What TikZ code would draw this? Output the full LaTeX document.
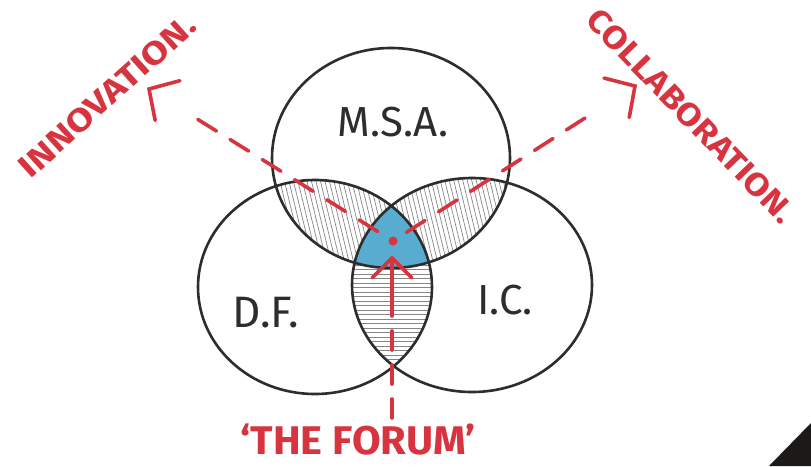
\documentclass[tikz,border=0pt]{standalone}
\usepackage{fontspec}
\setmainfont{Fira Sans}
\newfontfamily\hand{Fira Sans}
\usetikzlibrary{calc}
\definecolor{inkred}{RGB}{215,52,64}
\definecolor{inkblue}{RGB}{88,172,208}
\definecolor{ink}{RGB}{45,45,45}
\definecolor{hatchgray}{RGB}{135,135,135}
\definecolor{cornerink}{RGB}{28,26,22}
\begin{document}
\begin{tikzpicture}[x=1pt,y=-1pt,
  ring/.style={draw=ink, line width=2.6pt},
  hatchline/.style={draw=hatchgray, line width=0.7pt},
  redline/.style={draw=inkred, line width=3.6pt, line cap=round},
  reddash/.style={redline, dash pattern=on 22pt off 16pt},
  redlabel/.style={text=inkred, inner sep=0pt, font=\hand\bfseries\fontsize{32}{32}\selectfont},
  blacklabel/.style={text=ink, inner sep=0pt, font=\hand\fontsize{42}{42}\selectfont},
]
\useasboundingbox (0,0) rectangle (811,466);
\fill[white] (0,0) rectangle (811,466);

% hatching: top-left lens
\begin{scope}
  \clip (391,158) ellipse [x radius=119, y radius=110];
  \clip (315,287) ellipse [x radius=117, y radius=107];
  \foreach \k in {0,...,45} \draw[hatchline] ({240+\k*4.5},165) -- ++(28,115);
\end{scope}
% hatching: top-right lens
\begin{scope}
  \clip (391,158) ellipse [x radius=119, y radius=110];
  \clip (472,285) ellipse [x radius=120, y radius=107];
  \foreach \k in {0,...,45} \draw[hatchline] ({360+\k*4.5},165) -- ++(28,115);
\end{scope}
% hatching: bottom lens
\begin{scope}
  \clip (315,287) ellipse [x radius=117, y radius=107];
  \clip (472,285) ellipse [x radius=120, y radius=107];
  \foreach \k in {0,...,34} \draw[hatchline] (340,{220+\k*4.5}) -- (450,{220+\k*4.5});
\end{scope}
% blue centre
\begin{scope}
  \clip (391,158) ellipse [x radius=119, y radius=110];
  \clip (315,287) ellipse [x radius=117, y radius=107];
  \fill[inkblue] (472,285) ellipse [x radius=120, y radius=107];
\end{scope}

% circles
\draw[ring] (391,158) ellipse [x radius=119, y radius=110];
\draw[ring] (315,287) ellipse [x radius=117, y radius=107];
\draw[ring] (472,285) ellipse [x radius=120, y radius=107];

% labels
\node[blacklabel] (msa) at (393,122) {M.S.A.};
\node[blacklabel, font=\hand\fontsize{44}{44}\selectfont] (df) at (266,313) {D.F.};
\node[blacklabel] (ic) at (505,300) {I.C.};

% red arrows
\coordinate (ctr) at (393,241);
\coordinate (tipL) at (149,89);
\coordinate (tipR) at (635,86);
\coordinate (tipB) at (392,258);
\coordinate (shaft) at (392,313);
\coordinate (bot) at (392,418);

\draw[reddash, shorten <=18pt, shorten >=44pt] (ctr) -- (tipL);
\draw[redline] ($(tipL)!32pt!-47:(ctr)$) -- (tipL) -- ($(tipL)!32pt!47:(ctr)$);
\draw[reddash, shorten <=16pt, shorten >=44pt] (ctr) -- (tipR);
\draw[redline] ($(tipR)!32pt!-47:(ctr)$) -- (tipR) -- ($(tipR)!32pt!47:(ctr)$);
\draw[reddash, dash pattern=on 19pt off 15pt] (bot) -- (shaft);
\draw[redline] (shaft) -- (tipB);
\draw[redline] ($(tipB)!28pt!-45:(shaft)$) -- (tipB) -- ($(tipB)!28pt!45:(shaft)$);
\fill[inkred] (ctr) circle (4.5pt);

% red texts
\node[redlabel, rotate=42, xscale=1.21] (innov) at (107,96) {INNOVATION.};
\node[redlabel, rotate=-46, xscale=1.14] (collab) at (691,116) {COLLABORATION.};
\node[redlabel, font=\hand\bfseries\fontsize{40}{40}\selectfont, xscale=1.04] (forum) at (358,440) {‘THE FORUM’};

% corner
\fill[cornerink] (769,466) -- (811,423) -- (811,466) -- cycle;
\end{tikzpicture}
\end{document}
